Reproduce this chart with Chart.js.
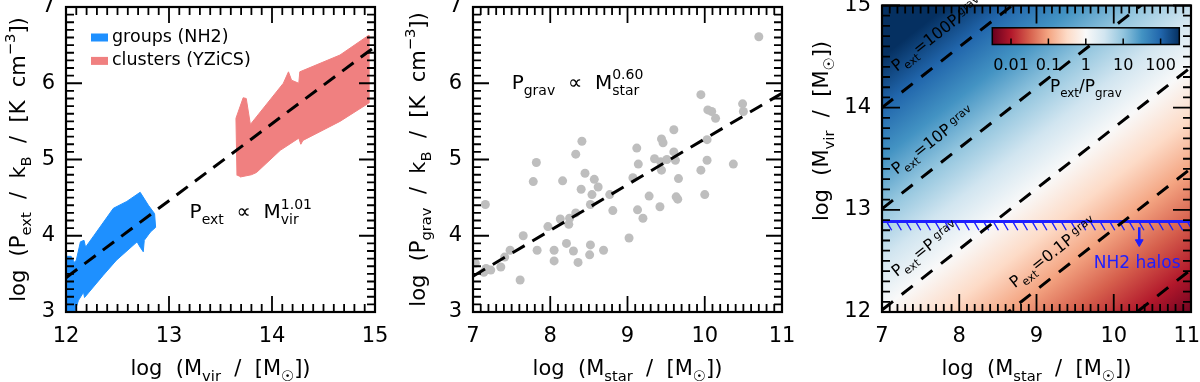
<!DOCTYPE html>
<html>
<head>
<meta charset="utf-8">
<script src="https://cdn.jsdelivr.net/npm/chart.js@4.4.0/dist/chart.umd.min.js"></script>
<style>
  body { margin: 0; background: #fff; }
  #wrap { position: relative; width: 1200px; height: 382px; overflow: hidden; }
  canvas { position: absolute; top: 0; }
</style>
</head>
<body>
<div id="wrap">
  <canvas id="panel1" width="400" height="382" style="left:0"></canvas>
  <canvas id="panel2" width="400" height="382" style="left:400px"></canvas>
  <canvas id="panel3" width="400" height="382" style="left:800px"></canvas>
</div>
<script>
// Datos leidos de la figura
// panel 1: contorno de las regiones (log Mvir, log Pext)
var groupsMvir = [12.01, 12.01, 12.05, 12.08, 12.10, 12.14, 12.175, 12.19, 12.27, 12.46, 12.59, 12.72, 12.80, 12.86, 12.87, 12.82, 12.76, 12.75, 12.72, 12.69, 12.49, 12.36, 12.18, 12.17, 12.12, 12.09, 12.07];
var groupsP = [3.00, 3.73, 3.73, 3.65, 3.68, 3.92, 3.94, 3.85, 4.00, 4.36, 4.45, 4.57, 4.40, 4.29, 4.11, 4.05, 3.94, 3.79, 3.85, 3.92, 3.68, 3.48, 3.19, 3.26, 3.15, 3.02, 3.00];
var clustersMvir = [13.66, 13.65, 13.72, 13.75, 13.79, 14.11, 14.16, 14.19, 14.26, 14.27, 14.66, 14.94, 14.94, 14.66, 14.30, 14.28, 14.26, 14.08, 13.85, 13.80, 13.69];
var clustersP = [4.79, 5.54, 5.81, 5.80, 5.46, 6.00, 6.15, 6.04, 6.00, 6.15, 6.37, 6.63, 5.74, 5.50, 5.25, 5.20, 5.28, 5.12, 4.83, 4.80, 4.77];

// panel 2: galaxias (log Mstar, log Pgrav)
var starMass = [7.03, 7.16, 7.14, 7.17, 7.23, 7.36, 7.41, 7.48, 7.61, 7.65,
  7.78, 7.82, 7.83, 7.97, 8.05, 8.05, 8.13, 8.16, 8.21, 8.24,
  8.25, 8.30, 8.33, 8.33, 8.36, 8.41, 8.40, 8.45, 8.52, 8.54,
  8.52, 8.51, 8.57, 8.62, 8.69, 8.77, 8.81, 9.02, 9.07, 9.12,
  9.14, 9.13, 9.20, 9.28, 9.35, 9.42, 9.43, 9.44, 9.46, 9.44,
  9.51, 9.60, 9.60, 9.62, 9.63, 9.65, 9.66, 9.95, 9.95, 10.00,
  10.03, 10.03, 10.04, 10.09, 10.14, 10.37, 10.49, 10.50, 10.70];
var gravP = [3.64, 4.41, 3.52, 3.57, 3.55, 3.59, 3.72, 3.81, 3.42, 4.00,
  4.71, 4.96, 3.81, 4.12, 3.81, 3.67, 4.22, 4.72, 3.90, 4.15,
  4.23, 3.80, 5.07, 4.30, 3.65, 5.24, 4.61, 4.82, 4.41, 4.54,
  3.88, 3.75, 4.74, 4.64, 3.81, 4.54, 4.33, 3.97, 4.76, 5.15,
  4.94, 4.34, 4.23, 4.52, 5.01, 4.38, 4.97, 5.27, 5.22, 4.86,
  5.00, 5.39, 5.10, 4.99, 4.51, 4.48, 4.75, 5.85, 4.86, 4.54,
  5.26, 4.99, 5.65, 5.63, 5.54, 4.94, 5.73, 5.63, 6.61];

// ajustes: log Pext = extNorm + extSlope*(Mvir-12) ; log Pgrav = gravNorm + gravSlope*(Mstar-7)
var extSlope = 1.01, extNorm = 3.45;
var gravSlope = 0.60, gravNorm = 3.47;

// panel 3
var ratioLevels = [2, 1, 0, -1, -2];
var cbTicks = [0.01, 0.1, 1, 10, 100];
var cbTickLabels = ['0.01', '0.1', '1', '10', '100'];
var cbRange = [-2.5, 2.5];
var nh2Limit = 12.885;
var rdbu = ['#67001f', '#b2182b', '#d6604d', '#f4a582', '#fddbc7', '#f9f9f9', '#d1e5f0', '#92c5de', '#4393c3', '#2166ac', '#053061'];

var FUENTE = '"DejaVu Sans", sans-serif';

/*
* Escribe texto con subindices ('b'), superindices ('p'), superindice apilado sobre el subindice anterior ('P')
*/
function escribir(ctx, x, y, partes, size, align) {
  var items = [], cx = 0, prevStart = 0;
  partes.forEach(function (p) {
    var t = p[0], k = p[1] || '';
    var s = k ? size * 0.7 : size;
    ctx.font = s + 'px ' + FUENTE;
    var w = ctx.measureText(t).width;
    var start = (k === 'P') ? prevStart : cx;
    var dy = 0;
    if (k === 'b') dy = size * 0.3;
    if (k === 'p' || k === 'P') dy = -size * 0.48;
    if (k === 'g') dy = -size * 0.3;
    items.push({ t: t, s: s, x: start, dy: dy });
    prevStart = start;
    cx = Math.max(cx, start + w);
  });
  var off = align === 'center' ? -cx / 2 : 0;
  ctx.textAlign = 'left';
  ctx.textBaseline = 'alphabetic';
  items.forEach(function (it) {
    ctx.font = it.s + 'px ' + FUENTE;
    ctx.fillText(it.t, x + off + it.x, y + it.dy);
  });
  return cx;
}

function puntos(xs, ys) {
  return xs.map(function (v, i) { return { x: v, y: ys[i] }; });
}

/*
* Marco, marcas hacia adentro y titulos de los ejes
*/
function marco(cfg) {
  return {
    id: 'marco',
    afterDatasetsDraw: function (chart) {
      var ctx = chart.ctx, a = chart.chartArea, sx = chart.scales.x, sy = chart.scales.y;
      ctx.save();
      ctx.strokeStyle = '#000';
      ctx.lineWidth = 1.8;
      ctx.beginPath();
      var i, p, L;
      for (i = Math.round(sx.min * 10); i <= Math.round(sx.max * 10); i++) {
        p = sx.getPixelForValue(i / 10);
        L = (i % 10 === 0) ? cfg.mayor : 8;
        ctx.moveTo(p, a.bottom); ctx.lineTo(p, a.bottom - L);
        ctx.moveTo(p, a.top); ctx.lineTo(p, a.top + L);
      }
      for (i = Math.round(sy.min * 10); i <= Math.round(sy.max * 10); i++) {
        p = sy.getPixelForValue(i / 10);
        L = (i % 10 === 0) ? cfg.mayor : 8;
        ctx.moveTo(a.left, p); ctx.lineTo(a.left + L, p);
        ctx.moveTo(a.right, p); ctx.lineTo(a.right - L, p);
      }
      ctx.stroke();
      ctx.lineWidth = 2.2;
      ctx.strokeRect(a.left, a.top, a.right - a.left, a.bottom - a.top);

      ctx.fillStyle = '#000';
      escribir(ctx, (a.left + a.right) / 2, a.bottom + 63, cfg.tituloX, 21, 'center');
      ctx.translate(a.left - cfg.yOff, cfg.yCentro || (a.top + a.bottom) / 2);
      ctx.rotate(-Math.PI / 2);
      escribir(ctx, 0, 0, cfg.tituloY, 21, 'center');
      ctx.restore();
    }
  };
}

function escalas(xMin, xMax, yMin, yMax, anchoY, etiquetaX) {
  var ticks = { stepSize: 1, autoSkip: false, maxRotation: 0, color: '#000', font: { family: FUENTE, size: 21 } };
  return {
    x: {
      type: 'linear', min: xMin, max: xMax,
      grid: { display: false, drawTicks: false }, border: { display: false },
      ticks: Object.assign({ padding: 12, callback: etiquetaX || function (v) { return '' + v; } }, ticks),
      afterFit: function (s) { s.height = 70; s.paddingLeft = 0; s.paddingRight = 0; }
    },
    y: {
      type: 'linear', min: yMin, max: yMax,
      grid: { display: false, drawTicks: false }, border: { display: false },
      ticks: Object.assign({ padding: 11 }, ticks),
      afterFit: function (s) { s.width = anchoY; s.paddingTop = 0; s.paddingBottom = 0; }
    }
  };
}

var base = {
  responsive: false,
  animation: false,
  events: [],
  plugins: { legend: { display: false }, tooltip: { enabled: false } }
};

var tituloMstar = [['log  (M'], ['star', 'b'], ['  /  [M'], ['\u2609', 'b'], ['])']];
var tituloMvir = [['log  (M'], ['vir', 'b'], ['  /  [M'], ['\u2609', 'b'], ['])']];

/*
* Panel 1: Pext vs Mvir
*/
var leyenda1 = {
  id: 'leyenda1',
  afterDatasetsDraw: function (chart) {
    var ctx = chart.ctx, a = chart.chartArea, sx = chart.scales.x, sy = chart.scales.y;
    ctx.save();
    var items = [['#1e90ff', 'groups (NH2)'], ['#f08080', 'clusters (YZiCS)']];
    items.forEach(function (it, i) {
      var y = a.top + 30.5 + i * 23.4;
      ctx.fillStyle = it[0];
      ctx.fillRect(a.left + 25, y - 4, 17, 8);
      ctx.fillStyle = '#000';
      ctx.font = '17.5px ' + FUENTE;
      ctx.textBaseline = 'middle';
      ctx.fillText(it[1], a.left + 46, y);
    });
    ctx.fillStyle = '#000';
    escribir(ctx, sx.getPixelForValue(13.20), sy.getPixelForValue(4.23),
      [['P'], ['ext', 'b'], ['  \u221D  M'], ['vir', 'b'], ['1.01', 'P']], 20);
    ctx.restore();
  }
};

new Chart(document.getElementById('panel1'), {
  type: 'scatter',
  data: {
    datasets: [
      {
        data: [{ x: 12, y: extNorm }, { x: 15, y: extNorm + extSlope * 3 }],
        showLine: true, borderColor: '#000', borderWidth: 3, borderDash: [14, 9], pointRadius: 0, order: 0
      },
      {
        data: puntos(groupsMvir, groupsP), showLine: true, fill: 'shape',
        backgroundColor: '#1e90ff', borderColor: '#1e90ff', borderWidth: 1, pointRadius: 0, order: 1
      },
      {
        data: puntos(clustersMvir, clustersP), showLine: true, fill: 'shape',
        backgroundColor: '#f08080', borderColor: '#f08080', borderWidth: 1, pointRadius: 0, order: 1
      }
    ]
  },
  options: Object.assign({}, base, {
    layout: { padding: { top: 7, right: 25, left: 0, bottom: 0 } },
    scales: escalas(12, 15, 3, 7, 66)
  }),
  plugins: [leyenda1, marco({
    mayor: 16, yOff: 41, tituloX: tituloMvir,
    tituloY: [['log  (P'], ['ext', 'b'], ['  /  k'], ['B', 'b'], ['  /  [K  cm'], ['\u22123', 'p'], ['])']]
  })]
});

/*
* Panel 2: Pgrav vs Mstar
*/
var texto2 = {
  id: 'texto2',
  afterDatasetsDraw: function (chart) {
    var ctx = chart.ctx, sx = chart.scales.x, sy = chart.scales.y;
    ctx.save();
    ctx.fillStyle = '#000';
    escribir(ctx, sx.getPixelForValue(7.50), sy.getPixelForValue(5.93),
      [['P'], ['grav', 'b'], ['  \u221D  M'], ['star', 'b'], ['0.60', 'P']], 20);
    ctx.restore();
  }
};

new Chart(document.getElementById('panel2'), {
  type: 'scatter',
  data: {
    datasets: [
      {
        data: [{ x: 7, y: gravNorm }, { x: 11, y: gravNorm + gravSlope * 4 }],
        showLine: true, borderColor: '#000', borderWidth: 3, borderDash: [14, 9], pointRadius: 0, order: 0
      },
      {
        data: puntos(starMass, gravP), pointRadius: 4.5, pointBackgroundColor: '#bebebe',
        pointBorderWidth: 0, order: 1
      }
    ]
  },
  options: Object.assign({}, base, {
    layout: { padding: { top: 7, right: 18, left: 0, bottom: 0 } },
    scales: escalas(7, 11, 3, 7, 73)
  }),
  plugins: [texto2, marco({
    mayor: 16, yOff: 48, tituloX: tituloMstar,
    tituloY: [['log  (P'], ['grav', 'b'], ['  /  k'], ['B', 'b'], ['  /  [K  cm'], ['\u22123', 'p'], ['])']]
  })]
});

/*
* Panel 3: Pext/Pgrav en el plano Mstar - Mvir
*/
function logCociente(ms, mv) {
  return extNorm + extSlope * (mv - 12) - (gravNorm + gravSlope * (ms - 7));
}
function mvirIso(r, ms) {
  return 12 + (r + gravNorm - extNorm + gravSlope * (ms - 7)) / extSlope;
}

var mapa = {
  id: 'mapa',
  beforeDatasetsDraw: function (chart) {
    var ctx = chart.ctx, a = chart.chartArea, sx = chart.scales.x, sy = chart.scales.y;
    // gradiente lineal a lo largo de la direccion en la que crece el cociente
    var p0 = { x: sx.getPixelForValue(9), y: sy.getPixelForValue(13.5) };
    var r0 = logCociente(9, 13.5);
    var dx = -gravSlope / (sx.getPixelForValue(10) - sx.getPixelForValue(9));
    var dy = extSlope / (sy.getPixelForValue(14) - sy.getPixelForValue(13));
    var g2 = dx * dx + dy * dy;
    var pa = { x: p0.x + (cbRange[0] - r0) * dx / g2, y: p0.y + (cbRange[0] - r0) * dy / g2 };
    var pb = { x: p0.x + (cbRange[1] - r0) * dx / g2, y: p0.y + (cbRange[1] - r0) * dy / g2 };
    var grad = ctx.createLinearGradient(pa.x, pa.y, pb.x, pb.y);
    rdbu.forEach(function (c, i) { grad.addColorStop(i / (rdbu.length - 1), c); });
    ctx.save();
    ctx.fillStyle = grad;
    ctx.fillRect(a.left, a.top, a.right - a.left, a.bottom - a.top);
    ctx.restore();
  },
  afterDatasetsDraw: function (chart) {
    var ctx = chart.ctx, a = chart.chartArea, sx = chart.scales.x, sy = chart.scales.y;
    ctx.save();
    // etiquetas de las lineas
    var ang = Math.atan2(sy.getPixelForValue(mvirIso(0, 9)) - sy.getPixelForValue(mvirIso(0, 8)),
      sx.getPixelForValue(9) - sx.getPixelForValue(8));
    var etiquetas = [
      [7.19, 14.35, '=100P'], [7.19, 13.34, '=10P'], [7.19, 12.34, '=P'], [8.72, 12.23, '=0.1P']
    ];
    ctx.fillStyle = '#000';
    etiquetas.forEach(function (e) {
      ctx.save();
      ctx.translate(sx.getPixelForValue(e[0]), sy.getPixelForValue(e[1]));
      ctx.rotate(ang);
      escribir(ctx, 0, 0, [['P'], ['ext', 'b'], [e[2]], [' grav', 'g']], 16);
      ctx.restore();
    });
    // texto NH2
    ctx.fillStyle = 'rgb(30,30,255)';
    ctx.font = '17px ' + FUENTE;
    ctx.textAlign = 'left';
    ctx.textBaseline = 'alphabetic';
    ctx.fillText('NH2 halos', sx.getPixelForValue(9.74), sy.getPixelForValue(12.43));

    // barra de color
    var bx = a.left + 110.3, bw = 187, by = a.top + 22.3, bh = 16.7;
    var grad = ctx.createLinearGradient(bx, 0, bx + bw, 0);
    rdbu.forEach(function (c, i) { grad.addColorStop(i / (rdbu.length - 1), c); });
    ctx.fillStyle = grad;
    ctx.fillRect(bx, by, bw, bh);
    ctx.strokeStyle = '#000';
    ctx.lineWidth = 1.5;
    ctx.strokeRect(bx, by, bw, bh);
    ctx.fillStyle = '#000';
    ctx.font = '16px ' + FUENTE;
    ctx.textAlign = 'center';
    ctx.beginPath();
    cbTicks.forEach(function (v, i) {
      var px = bx + (Math.log10(v) - cbRange[0]) / (cbRange[1] - cbRange[0]) * bw;
      ctx.moveTo(px, by + bh); ctx.lineTo(px, by + bh - 6);
      ctx.fillText(cbTickLabels[i], px, by + bh + 25);
    });
    ctx.stroke();
    escribir(ctx, bx + bw / 2, by + bh + 47, [['P'], ['ext', 'b'], ['/P'], ['grav', 'b']], 17, 'center');
    ctx.restore();
  }
};

var isoLineas = ratioLevels.map(function (r) {
  return {
    data: [{ x: 7, y: mvirIso(r, 7) }, { x: 11, y: mvirIso(r, 11) }],
    showLine: true, borderColor: '#000', borderWidth: 3, borderDash: [14, 11], pointRadius: 0
  };
});

// rayado bajo el limite de NH2
var rayado = [];
for (var ms = 7.06; ms < 10.98; ms += 0.1256) {
  rayado.push({ x: ms, y: nh2Limit }, { x: ms + 0.065, y: nh2Limit - 0.085 }, { x: ms + 0.065, y: null });
}

new Chart(document.getElementById('panel3'), {
  type: 'scatter',
  data: {
    datasets: isoLineas.concat([
      {
        data: [{ x: 7, y: nh2Limit }, { x: 11, y: nh2Limit }],
        showLine: true, borderColor: 'rgb(30,30,255)', borderWidth: 3, pointRadius: 0
      },
      {
        data: rayado, showLine: true, spanGaps: false, borderColor: 'rgb(30,30,255)', borderWidth: 1.4, pointRadius: 0
      },
      {
        data: [{ x: 10.33, y: 12.83 }, { x: 10.33, y: 12.70 }],
        showLine: true, borderColor: 'rgb(30,30,255)', borderWidth: 2.5, pointRadius: 0
      },
      {
        data: [{ x: 10.33, y: 12.685 }], pointStyle: 'triangle', rotation: 180, pointRadius: 4.5,
        pointBackgroundColor: 'rgb(30,30,255)', pointBorderColor: 'rgb(30,30,255)', pointBorderWidth: 1
      }
    ])
  },
  options: Object.assign({}, base, {
    layout: { padding: { top: 5, right: 9, left: 0, bottom: 0 } },
    // el ultimo numero queda pegado al borde de la ventana, se corre un poco a la izquierda
    scales: escalas(7, 11, 12, 15, 82, function (v) { return v === 11 ? '11\u2009\u2009' : '' + v; })
  }),
  plugins: [mapa, marco({ mayor: 18, yOff: 54, yCentro: 131, tituloX: tituloMstar, tituloY: tituloMvir })]
});
</script>
</body>
</html>
